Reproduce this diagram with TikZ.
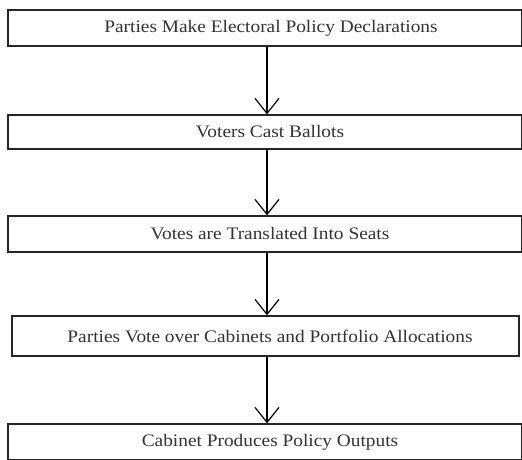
\documentclass[tikz,border=0pt]{standalone}
\usepackage{fontspec}
\setmainfont{Liberation Serif}
\usetikzlibrary{arrows.meta}
\begin{document}
\begin{tikzpicture}[x=1pt,y=1pt,
  stagebox/.style={draw=black!85, line width=1.3pt, rectangle, inner sep=0pt},
  stagetext/.style={font=\fontsize{17.6}{19}\selectfont, text=black!80, inner sep=0pt, xscale=1.1},
  flowarrow/.style={draw=black, line width=1.2pt, -{Straight Barb[length=15pt,width=24pt,line width=1.2pt]}}]
\useasboundingbox (0,0) rectangle (522,459);
% boxes (y measured from top: y_tikz = 459 - y_img)
\node[stagebox, minimum width=514, minimum height=36] (b1) at (265,431) {};
\node[stagebox, minimum width=514, minimum height=34] (b2) at (265,327) {};
\node[stagebox, minimum width=514, minimum height=36] (b3) at (265,225) {};
\node[stagebox, minimum width=507, minimum height=40] (b4) at (265.5,123) {};
\node[stagebox, minimum width=514, minimum height=36] (b5) at (265,17) {};
\node[stagetext] (t1) at (271,431) {Parties Make Electoral Policy Declarations};
\node[stagetext] (t2) at (270,327) {Voters Cast Ballots};
\node[stagetext] (t3) at (270,225) {Votes are Translated Into Seats};
\node[stagetext] (t4) at (270,123) {Parties Vote over Cabinets and Portfolio Allocations};
\node[stagetext] (t5) at (270,17) {Cabinet Produces Policy Outputs};
\coordinate (ax) at (267,0);
\draw[flowarrow] (b1.south -| ax) -- (b2.north -| ax);
\draw[flowarrow] (b2.south -| ax) -- (b3.north -| ax);
\draw[flowarrow] (b3.south -| ax) -- (b4.north -| ax);
\draw[flowarrow] (b4.south -| ax) -- (b5.north -| ax);
\end{tikzpicture}
\end{document}
